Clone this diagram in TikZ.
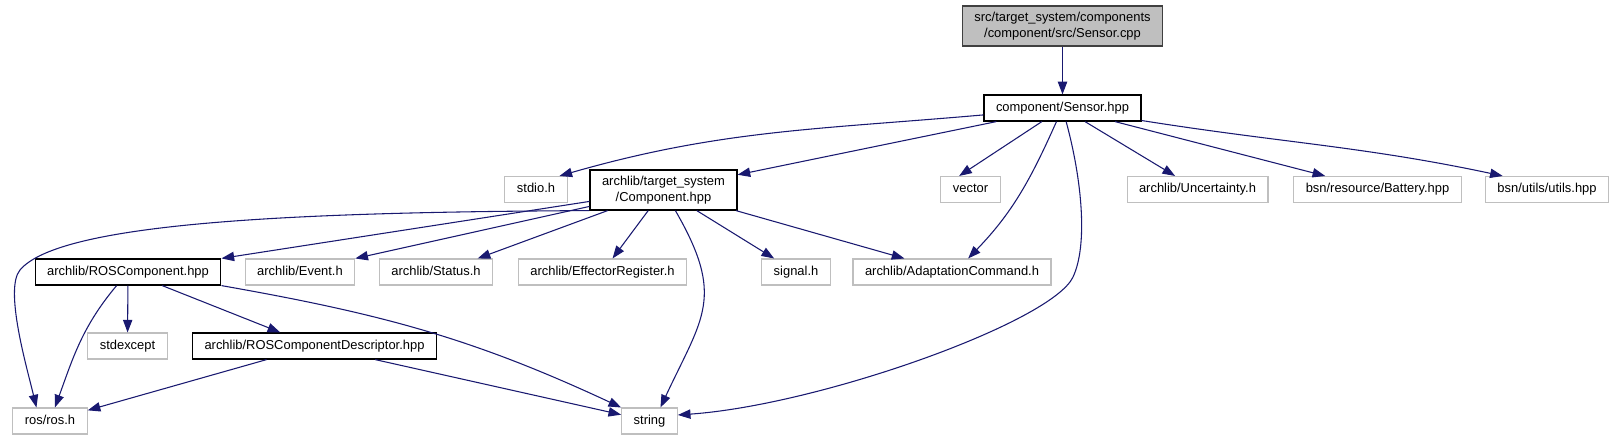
\documentclass[tikz,border=0pt]{standalone}
\usepackage{fontspec}
\setmainfont{Liberation Sans}
\usetikzlibrary{arrows.meta}

\definecolor{edgeblue}{HTML}{191970}
\definecolor{extgray}{HTML}{BFBFBF}

\tikzset{
  filebox/.style={draw=black, line width=0.9pt, fill=white, inner xsep=9pt, inner ysep=5.25pt,
    text height=7pt, text depth=2pt, font=\fontsize{9.7}{11.5}\selectfont},
  extbox/.style={filebox, draw=extgray, line width=0.8pt},
  rootbox/.style={filebox, fill=extgray, draw=black!75},
  twoline/.style={align=center, text height={}, text depth={}, inner ysep=0pt, minimum height=30pt},
  dep/.style={edgeblue, line width=0.8pt, -{Triangle[length=9.5pt,width=7pt]}}
}

\begin{document}
\begin{tikzpicture}[x=0.75pt, y=-0.75pt]
  % Marco: 1 unidad = 1 pixel de la imagen
  \useasboundingbox (0,0) rectangle (1615,440);

  % Fichero raiz
  \node[rootbox, twoline] (cpp) at (1062.5,26) {src/target\_system/components\\/component/src/Sensor.cpp};

  % Cabecera directa
  \node[filebox] (hpp) at (1062.5,108) {component/Sensor.hpp};

  % Segundo nivel
  \node[extbox] (stdio) at (536,189.5) {stdio.h};
  \node[filebox, twoline] (comp) at (663.5,190) {archlib/target\_system\\/Component.hpp};
  \node[extbox] (vector) at (970.5,189.5) {vector};
  \node[extbox] (uncert) at (1197.5,189.5) {archlib/Uncertainty.h};
  \node[extbox] (battery) at (1377.5,189.5) {bsn/resource/Battery.hpp};
  \node[extbox] (utils) at (1547,189.5) {bsn/utils/utils.hpp};

  % Tercer nivel
  \node[filebox] (roscomp) at (128,272) {archlib/ROSComponent.hpp};
  \node[extbox] (event) at (300,272) {archlib/Event.h};
  \node[extbox] (status) at (436,272) {archlib/Status.h};
  \node[extbox] (effector) at (602.5,272) {archlib/EffectorRegister.h};
  \node[extbox] (signal) at (796,272) {signal.h};
  \node[extbox] (adapt) at (952,272) {archlib/AdaptationCommand.h};

  % Cuarto nivel
  \node[extbox] (stdexcept) at (127.5,346) {stdexcept};
  \node[filebox] (desc) at (314.5,346) {archlib/ROSComponentDescriptor.hpp};

  % Hojas de abajo
  \node[extbox] (ros) at (50,421) {ros/ros.h};
  \node[extbox] (string) at (649.5,421) {string};

  % Dependencias de Sensor.cpp y Sensor.hpp
  \draw[dep] (cpp) -- (hpp);
  \draw[dep] (hpp) to[out=185,in=16] (stdio.30);
  \draw[dep] (hpp) -- (comp);
  \draw[dep] (hpp) -- (vector.130);
  \draw[dep] (hpp) to[out=246,in=46] (adapt.40);
  \draw[dep] (hpp.285) .. controls (1082,180) and (1088,245) .. (1073,277)
                      .. controls (1052,322) and (820,405) .. (string.12);
  \draw[dep] (hpp) -- (uncert);
  \draw[dep] (hpp) -- (battery);
  \draw[dep] (hpp) to[out=-9,in=168] (utils.163);

  % Dependencias de Component.hpp
  \draw[dep] (comp.south west) .. controls (300,212) and (60,222) .. (20,270)
                               .. controls (4,289) and (27,368) .. (ros.135);
  \draw[dep] (comp) -- (roscomp.north east);
  \draw[dep] (comp) -- (event.north east);
  \draw[dep] (comp) -- (status.18);
  \draw[dep] (comp) -- (effector);
  \draw[dep] (comp) to[out=-60,in=65,looseness=1.3] (string.51);
  \draw[dep] (comp) -- (signal);
  \draw[dep] (comp) -- (adapt);

  % Dependencias de ROSComponent.hpp
  \draw[dep] (roscomp) to[out=230,in=70] (ros.70);
  \draw[dep] (roscomp) -- (stdexcept);
  \draw[dep] (roscomp) -- (desc);
  \draw[dep] (roscomp.south east) to[out=-10,in=155] (string.north west);

  % Dependencias de ROSComponentDescriptor.hpp
  \draw[dep] (desc) -- (ros);
  \draw[dep] (desc) -- (string);
\end{tikzpicture}
\end{document}
